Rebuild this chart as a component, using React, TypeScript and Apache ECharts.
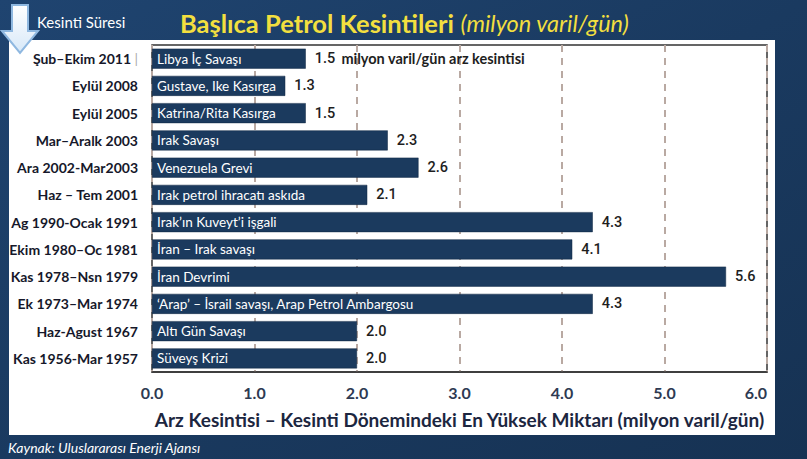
import React, { useEffect, useRef } from "react";
import * as echarts from "echarts";

const periods = [
  "Şub–Ekim 2011",
  "Eylül 2008",
  "Eylül 2005",
  "Mar–Aralk 2003",
  "Ara 2002-Mar2003",
  "Haz – Tem 2001",
  "Ag 1990-Ocak 1991",
  "Ekim 1980–Oc 1981",
  "Kas 1978–Nsn 1979",
  "Ek 1973–Mar 1974",
  "Haz-Agust 1967",
  "Kas 1956-Mar 1957",
];

const events = [
  "Libya İç Savaşı",
  "Gustave, Ike Kasırga",
  "Katrina/Rita Kasırga",
  "Irak Savaşı",
  "Venezuela Grevi",
  "Irak petrol ihracatı askıda",
  "Irak’ın Kuveyt’i işgali",
  "İran – Irak savaşı",
  "İran Devrimi",
  "‘Arap’ – İsrail savaşı, Arap Petrol Ambargosu",
  "Altı Gün Savaşı",
  "Süveyş Krizi",
];

const values = [1.5, 1.3, 1.5, 2.3, 2.6, 2.1, 4.3, 4.1, 5.6, 4.3, 2.0, 2.0];

const xTicks = [0, 1, 2, 3, 4, 5, 6];

const title = "Başlıca Petrol Kesintileri";
const titleUnit = "(milyon varil/gün)";
const leftHeader = "Kesinti Süresi";
const axisTitle = "Arz Kesintisi – Kesinti Dönemindeki En Yüksek Miktarı (milyon varil/gün)";
const firstNote = "milyon varil/gün arz kesintisi";
const source = "Kaynak: Uluslararası Enerji Ajansı";

const NAVY = "#1b3a5e";
const FONT = "Lato, 'Open Sans', sans-serif";

export default function App() {
  const ref = useRef<HTMLDivElement>(null);

  useEffect(() => {
    document.body.style.margin = "0";
    if (!ref.current) return;
    const chart = echarts.init(ref.current, null, { renderer: "svg" });

    const option: any = {
      animation: false,
      backgroundColor: {
        type: "linear",
        x: 0,
        y: 0,
        x2: 1,
        y2: 1,
        colorStops: [
          { offset: 0, color: "#1f4470" },
          { offset: 0.5, color: "#1a3a60" },
          { offset: 1, color: "#163253" },
        ],
      },
      textStyle: { fontFamily: FONT },
      graphic: [
        {
          type: "rect",
          z: -10,
          shape: { x: 9, y: 40, width: 766, height: 395 },
          style: { fill: "#ffffff" },
        },
        {
          type: "polygon",
          z: 10,
          shape: {
            points: [
              [12, 5],
              [28, 5],
              [28, 31],
              [38, 31],
              [20, 53],
              [2, 31],
              [12, 31],
            ],
          },
          style: {
            fill: {
              type: "linear",
              x: 0,
              y: 0,
              x2: 0,
              y2: 1,
              colorStops: [
                { offset: 0, color: "#ffffff" },
                { offset: 1, color: "#d7e8f8" },
              ],
            },
            stroke: "#8fb8e0",
            lineWidth: 2,
          },
        },
        {
          type: "text",
          x: 37,
          y: 22,
          style: {
            text: leftHeader,
            fill: "#ffffff",
            fontSize: 15,
            fontFamily: FONT,
            verticalAlign: "middle",
          },
        },
        {
          type: "text",
          x: 180,
          y: 23,
          style: {
            text: "{t|" + title + "}  {s|" + titleUnit + "}",
            verticalAlign: "middle",
            rich: {
              t: {
                fontSize: 25.5,
                fontWeight: "bold",
                fill: "#f2df3f",
                fontFamily: FONT,
              },
              s: {
                fontSize: 23.5,
                fontStyle: "italic",
                fill: "#f2df3f",
                fontFamily: FONT,
              },
            },
          },
        },
        {
          type: "text",
          x: 8,
          y: 447,
          style: {
            text: source,
            fill: "#ffffff",
            fontSize: 14,
            fontStyle: "italic",
            fontFamily: FONT,
            verticalAlign: "middle",
          },
        },
      ],
      grid: {
        left: 152,
        right: 40,
        top: 45,
        bottom: 87,
        show: true,
        backgroundColor: "#ffffff",
        borderColor: "#333333",
        borderWidth: 1.5,
      },
      xAxis: {
        type: "value",
        min: xTicks[0],
        max: xTicks[xTicks.length - 1],
        interval: 1,
        axisLine: { show: true, lineStyle: { color: "#333333", width: 1.5 } },
        axisTick: { show: false },
        splitLine: {
          show: true,
          lineStyle: { color: "#b9a9a2", width: 2, type: [7, 6] },
        },
        axisLabel: {
          formatter: (v: number) => v.toFixed(1),
          fontSize: 16,
          fontWeight: "bold",
          color: "#2e3a52",
          margin: 12,
          fontFamily: FONT,
          alignMaxLabel: "right",
        },
        name: axisTitle,
        nameLocation: "middle",
        nameGap: 38,
        nameTextStyle: {
          fontSize: 19,
          fontWeight: "bold",
          color: "#1c2640",
          fontFamily: FONT,
        },
      },
      yAxis: {
        type: "category",
        data: periods,
        inverse: true,
        axisLine: { show: false },
        axisTick: { show: false },
        splitLine: { show: false },
        axisLabel: {
          formatter: (v: string, i: number) => (i === 0 ? v + " {bar||}" : v),
          fontSize: 14,
          fontWeight: "bold",
          color: "#16182a",
          margin: 14,
          fontFamily: FONT,
          rich: { bar: { color: "#aaaaaa", fontSize: 14, fontWeight: "normal" } },
        },
      },
      series: [
        {
          type: "bar",
          data: values,
          barWidth: 20,
          itemStyle: { color: NAVY, borderColor: "#0f2742", borderWidth: 0.5 },
          label: {
            show: true,
            position: "insideLeft",
            distance: 5,
            formatter: (p: any) => events[p.dataIndex],
            color: "#ffffff",
            fontSize: 13.5,
            fontFamily: FONT,
          },
          z: 3,
        },
        {
          type: "bar",
          data: values,
          barWidth: 20,
          barGap: "-100%",
          silent: true,
          itemStyle: { color: "rgba(0,0,0,0)" },
          label: {
            show: true,
            position: "right",
            distance: 9,
            formatter: (p: any) =>
              p.dataIndex === 0
                ? "{v|" + values[p.dataIndex].toFixed(1) + "}  {n|" + firstNote + "}"
                : "{v|" + values[p.dataIndex].toFixed(1) + "}",
            rich: {
              v: {
                fontSize: 14.5,
                fontWeight: 500,
                color: "#1e1e1e",
                fontFamily: "Roboto, sans-serif",
              },
              n: {
                fontSize: 14.5,
                fontWeight: "bold",
                color: "#1e1e1e",
                fontFamily: FONT,
              },
            },
          },
          z: 4,
        },
      ],
    };

    chart.setOption(option);
    return () => chart.dispose();
  }, []);

  return <div ref={ref} style={{ width: 807, height: 459 }} />;
}
